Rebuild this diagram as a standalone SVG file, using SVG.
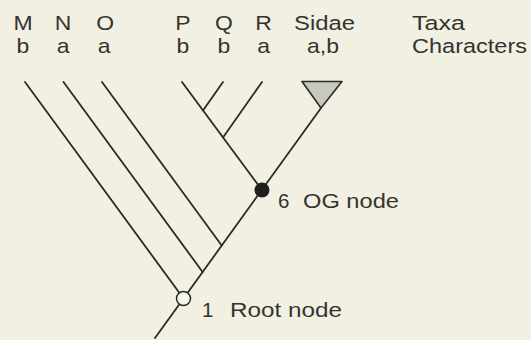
<svg xmlns="http://www.w3.org/2000/svg" width="531" height="340" viewBox="0 0 531 340">
<style>
text{font-family:"Liberation Sans",Arial,Helvetica,sans-serif;font-size:20.5px;fill:#34342f}
.c{text-anchor:middle}
.ln{stroke:#2b2b26;stroke-width:1.8;fill:none;stroke-linecap:round}
</style>
<rect width="531" height="340" fill="#f2f0e2"/>
<g id="labels">
<g transform="matrix(1.12,0,0,1,0,0)">
<text class="c" x="20.5" y="30">M</text>
<text class="c" x="56.3" y="30">N</text>
<text class="c" x="93.8" y="30">O</text>
<text class="c" x="163.4" y="30">P</text>
<text class="c" x="200" y="30">Q</text>
<text class="c" x="235.3" y="30">R</text>
<text class="c" x="20.5" y="53">b</text>
<text class="c" x="56.3" y="53">a</text>
<text class="c" x="92.9" y="53">a</text>
<text class="c" x="163.4" y="53">b</text>
<text class="c" x="200" y="53">b</text>
<text class="c" x="235.3" y="53">a</text>
<text class="c" x="288.4" y="53">a,b</text>
</g>
<text x="294" y="30" textLength="61" lengthAdjust="spacingAndGlyphs">Sidae</text>
<text x="412" y="30" textLength="53" lengthAdjust="spacingAndGlyphs">Taxa</text>
<text x="412" y="53" textLength="115" lengthAdjust="spacingAndGlyphs">Characters</text>
</g>
<g id="connectors">
<line class="ln" x1="155" y1="338" x2="321" y2="108"/>
<line class="ln" x1="25" y1="82" x2="183.5" y2="298.5"/>
<line class="ln" x1="63.5" y1="82" x2="202.6" y2="272"/>
<line class="ln" x1="102" y1="82" x2="221.7" y2="245.5"/>
<line class="ln" x1="182" y1="82" x2="262" y2="190"/>
<line class="ln" x1="223" y1="82" x2="203" y2="110.4"/>
<line class="ln" x1="262" y1="82" x2="223" y2="137.4"/>
</g>
<g id="sidae">
<polygon points="302,81.5 342,81.5 321,108" fill="#c9c8c0" stroke="#2b2b26" stroke-width="1.6" stroke-linejoin="round"/>
</g>
<g id="og-node">
<circle cx="262" cy="190" r="7.5" fill="#1e1e1a"/>
<text x="278" y="208">6</text>
<text x="303" y="208" textLength="96" lengthAdjust="spacingAndGlyphs">OG node</text>
</g>
<g id="root-node">
<circle cx="183.5" cy="298.5" r="7" fill="#f7f6ee" stroke="#2b2b26" stroke-width="1.5"/>
<text x="202" y="317">1</text>
<text x="230" y="317" textLength="112" lengthAdjust="spacingAndGlyphs">Root node</text>
</g>
</svg>
